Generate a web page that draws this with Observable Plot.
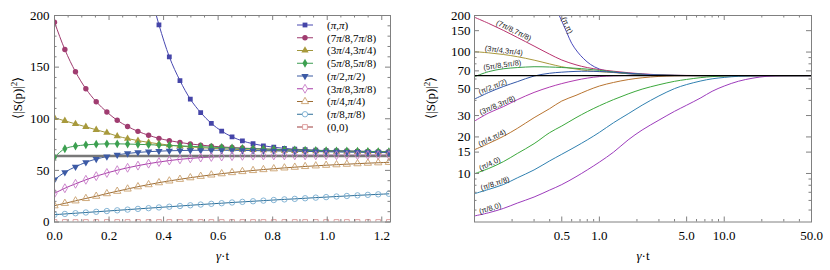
<!DOCTYPE html>
<html><head><meta charset="utf-8">
<script src="https://cdn.jsdelivr.net/npm/d3@7"></script>
<script src="https://cdn.jsdelivr.net/npm/@observablehq/plot@0.6"></script>
<style>
html,body{margin:0;padding:0;background:#fff;}
#wrap{display:flex;width:830px;height:270px;overflow:hidden;}
#wrap svg{display:block;flex:none;}
</style></head><body><div id="wrap"></div>
<script>
// ---------- LEFT PANEL DATA (linear axes) ----------
const tL = [0,0.038,0.077,0.115,0.153,0.192,0.23,0.268,0.306,0.345,0.383,0.421,0.46,0.498,0.536,0.575,0.613,0.651,0.689,0.728,0.766,0.804,0.843,0.881,0.919,0.958,0.996,1.034,1.072,1.111,1.149,1.187,1.226];
const vPiPi = [null,null,null,null,null,null,null,null,268,228,191,160,137,119,106,95.5,88,82.5,78.5,75.8,73.8,72.4,71.3,70.5,70,69.5,69.2,68.9,68.6,68.4,68.2,68,67.9];
const v78 = [193.5,167,145.5,129,116.5,106.5,98.5,92.5,87.8,84,81,78.8,77,75.6,74.5,73.5,72.7,72.1,71.6,71.1,70.7,70.4,70.1,69.8,69.5,69.3,69.1,68.9,68.7,68.5,68.4,68.2,68.1];
const v34 = [100.8,98,95,92.2,89.3,86.5,83.2,80.8,78.8,77.1,75.7,74.5,73.5,72.7,72,71.4,70.9,70.5,70.1,69.8,69.5,69.3,69.1,68.9,68.7,68.5,68.4,68.2,68.1,68,67.9,67.8,67.7];
const v58 = [62.7,71,73.5,74.7,75.4,75.7,75.7,75.5,75.2,74.9,74.5,74.1,73.7,73.3,72.9,72.5,72.1,71.7,71.3,71,70.7,70.4,70.1,69.8,69.6,69.3,69.1,68.9,68.7,68.5,68.3,68.2,68];
const v12 = [41,48.2,53.5,57.8,61,63.3,65.1,66.4,67.4,68.1,68.6,69,69.2,69.4,69.5,69.5,69.5,69.4,69.3,69.2,69,68.9,68.7,68.5,68.4,68.2,68,67.9,67.7,67.6,67.4,67.3,67.2];
const v38 = [27.8,32.7,37,40.9,44.4,47.5,50.2,52.5,54.6,56.5,58.1,59.5,60.7,61.6,62.4,63,63.4,63.8,64.1,64.3,64.4,64.5,64.5,64.6,64.6,64.6,64.7,64.7,64.7,64.7,64.8,64.8,64.8];
const v14 = [15.8,18.1,20.5,22.8,25,27.5,29.8,32,34.2,36.2,38.1,39.8,41.4,42.9,44.3,45.6,46.8,47.9,48.9,49.9,50.8,51.6,52.4,53.1,53.8,54.4,55,55.5,56,56.5,57,57.4,57.8];
const v18 = [7.1,7.8,8.5,9.2,9.9,10.6,11.3,12,12.7,13.4,14.1,14.8,15.5,16.2,16.9,17.6,18.2,18.9,19.5,20.1,20.7,21.3,21.9,22.4,23,23.6,24.1,24.7,25.2,25.8,26.3,26.8,27.3];
const v00 = [0,0,0,0,0,0,0,0,0,0,0,0,0,0,0,0,0,0,0,0,0,0,0,0,0,0,0,0,0,0,0,0,0];
const namesL = ["(π,π)","(7π/8,7π/8)","(3π/4,3π/4)","(5π/8,5π/8)","(π/2,π/2)","(3π/8,3π/8)","(π/4,π/4)","(π/8,π/8)","(0,0)"];
const valuesL = [vPiPi,v78,v34,v58,v12,v38,v14,v18,v00];
const refLevel = 64;

const xMajL = [0,0.2,0.4,0.6,0.8,1.0,1.2];
const xMinL = [0.05,0.1,0.15,0.25,0.3,0.35,0.45,0.5,0.55,0.65,0.7,0.75,0.85,0.9,0.95,1.05,1.1,1.15];
const yMajL = [0,50,100,150,200];
const yMinL = [10,20,30,40,60,70,80,90,110,120,130,140,160,170,180,190];

// ---------- RIGHT PANEL DATA (log-log) ----------
const tRpp = [0.4,0.45,0.5,0.55,0.6,0.67,0.75,0.85,1,1.3,1.7,2.2,3,4,5,8,50];
const rPP = [300,228,180,144,118,100,88,79,72.5,68.3,66.3,65.2,64.5,64.2,64.1,64,64];
const tR = [0.1,0.13,0.17,0.22,0.3,0.4,0.5,0.65,0.8,1,1.3,1.7,2.2,3,4,5,6.5,8,10,13,17,22,30,40,50];
const r78 = [193.5,172,151,132,112,96,86,78.5,74.5,71.8,69.5,67.6,66.2,65,64.4,64.2,64.1,64,64,64,64,64,64,64,64];
const r34 = [100.8,98.5,95.5,91.6,85.8,79.8,75.7,72.5,70.3,68.9,67.8,66.5,65.4,64.6,64.2,64.1,64,64,64,64,64,64,64,64,64];
const r58 = [62.7,69,72.8,74.5,75.7,75.3,74.6,73.5,72.3,70.6,68.6,66.8,65.5,64.6,64.2,64.1,64,64,64,64,64,64,64,64,64];
const r12 = [41,46.5,52,57,63.5,66.9,68.3,69.3,69.5,69.2,68.2,67,65.8,64.8,64.3,64.1,64,64,64,64,64,64,64,64,64];
const r38 = [27,31.5,35.5,40.5,46.5,51.5,55,58.6,61,62.8,63.8,64.2,64.3,64.2,64.1,64,64,64,64,64,64,64,64,64,64];
const r14 = [15.7,17.7,20.2,23.5,28.8,34.2,39.5,44,48.2,52.5,56.2,59.3,61.4,63,63.7,63.9,64,64,64,64,64,64,64,64,64];
const r40 = [9.95,11,12.5,14.6,17.6,21.7,24.6,28.8,32.3,36.1,40.6,45.2,49.5,53.8,57.4,59.5,61.6,62.8,63.6,64,64,64,64,64,64];
const r18 = [6.82,7.4,8.1,9.2,10.7,12.7,14.4,16.7,18.9,21.8,26.2,31,36.5,43.5,50,54,57.8,60.2,61.8,63.2,63.8,64,64,64,64];
const r80 = [4.47,4.75,5.15,5.7,6.4,7.3,8.1,9.4,10.7,12.4,15,18.9,22.8,27.5,32.5,36.5,42,47.5,52.5,57.5,61,63.2,63.9,64,64];
const namesR = ["(π,π)","(7π/8,7π/8)","(3π/4,3π/4)","(5π/8,5π/8)","(π/2,π/2)","(3π/8,3π/8)","(π/4,π/4)","(π/4,0)","(π/8,π/8)","(π/8,0)"];
const timesR = [tRpp,tR,tR,tR,tR,tR,tR,tR,tR,tR];
const valuesR = [rPP,r78,r34,r58,r12,r38,r14,r40,r18,r80];
// curve labels (anchor on curve, in data units)
const labelT = [0.53,0.202,0.171,0.168,0.142,0.155,0.141,0.135,0.148,0.135];
const labelV = [158,140,95.4,72.5,48.2,34,18.3,11.2,7.7,4.8];
const labelRot = [65,26,7,-8,-22,-23,-26,-25,-18.5,-17];

const xMajR = [0.5,1,5,10,50];
const xMinR = [0.2,0.3,0.4,0.6,0.7,0.8,0.9,2,3,4,6,7,8,9,20,30,40];
const yMajR = [10,15,20,30,50,70,100,150,200];
const yMinR = [5,6,7,8,9,40,60,80,90];

// ---------- STYLES ----------
const lineColL = ["#4848b0","#9e3a6e","#a0963c","#3c9c52","#3a5aa2","#a83ca8","#9c6c34","#2c6e98","#9c3c3c"];
const markColL = ["#4545a8","#a03c70","#a89a3c","#3ca050","#3c5aa5","#c77cc7","#c9a06e","#78add0","#dc9696"];
const filledL = [true,true,true,true,true,false,false,false,false];
const triDown = {draw(ctx, size){const y = -Math.sqrt(size/(Math.sqrt(3)*3)); ctx.moveTo(0,-y*2); ctx.lineTo(-Math.sqrt(3)*y, y); ctx.lineTo(Math.sqrt(3)*y, y); ctx.closePath();}};
const symL = [d3.symbolSquare,d3.symbolCircle,d3.symbolTriangle,d3.symbolDiamond,triDown,d3.symbolDiamond,d3.symbolTriangle,d3.symbolCircle,d3.symbolSquare];
const colR = ["#4b4bbd","#b8336e","#a8983c","#38a048","#3458a8","#b03cb0","#b87430","#3ca83c","#3080b0","#9c3cbc"];
const frameCol = "#808080";
const SERIF = "Liberation Serif";
const SANS = "Liberation Sans";
const txt = {fontSize: 13, fill: "#000"};

function tickMarks(xMaj, xMin, yMaj, yMin, xd, yd) {
  const [x0,x1] = xd, [y0,y1] = yd;
  const st = {stroke: frameCol, strokeWidth: 1};
  const out = [];
  for (const [vals, len] of [[xMaj,5],[xMin,2.5]]) {
    out.push(Plot.ruleX(vals, {x: d=>d, y1: ()=>y0, y2: ()=>y0, insetBottom: len, ...st}));
    out.push(Plot.ruleX(vals, {x: d=>d, y1: ()=>y1, y2: ()=>y1, insetBottom: -len, ...st}));
  }
  for (const [vals, len] of [[yMaj,5],[yMin,2.5]]) {
    out.push(Plot.ruleY(vals, {y: d=>d, x1: ()=>x0, x2: ()=>x0, insetRight: -len, ...st}));
    out.push(Plot.ruleY(vals, {y: d=>d, x1: ()=>x1, x2: ()=>x1, insetRight: len, ...st}));
  }
  return out;
}
function tickLabels(xMaj, yMaj, xd, yd, xfmt, yfmt, ypad) {
  return [
    Plot.text(xMaj, {x: d=>d, y: ()=>yd[0], text: d=>xfmt(d), dy: 14, ...txt}),
    Plot.text(yMaj, {x: ()=>xd[0], y: d=>d, text: d=>yfmt(d), dx: -ypad, textAnchor: "end", ...txt})
  ];
}

function fixLabels(svg, sansTexts) {
  const sel = d3.select(svg);
  sel.selectAll("text").each(function(){
    const el = d3.select(this);
    const s = this.textContent;
    if (s === "γ·t") {
      el.text("");
      el.append("tspan").attr("font-style","italic").text("γ");
      el.append("tspan").text("·t");
    } else if (s === "⟨|S(p)|2⟩") {
      el.text("");
      el.append("tspan").text("⟨|S(p)|");
      el.append("tspan").attr("dy","-5").style("font-size","9px").text("2");
      el.append("tspan").attr("dy","5").text("⟩");
    }
  });
  sel.selectAll("text").each(function(){
    const f = sansTexts.includes(this.textContent) ? SANS : SERIF;
    d3.select(this).attr("font-family", f).style("font-family", f);
  });
}

// ---------- LEFT PLOT ----------
const xdL = [0, 1.232], ydL = [0, 200];
const marksL = [];
namesL.forEach((n,k) => {
  const rows = tL.map((t,i)=>({t, v: valuesL[k][i]})).filter(d=>d.v!=null);
  marksL.push(Plot.line(rows, {x:"t", y:"v", stroke: lineColL[k], strokeWidth: 1, curve: "monotone-x", clip: true}));
});
marksL.push(Plot.ruleY([refLevel], {stroke: "#787878", strokeWidth: 2.5}));
namesL.forEach((n,k) => {
  const rows = tL.map((t,i)=>({t, v: valuesL[k][i]})).filter(d=>d.v!=null);
  marksL.push(Plot.dot(rows, filledL[k]
    ? {x:"t", y:"v", symbol: symL[k], r: 2.7, fill: markColL[k], stroke: "none", clip: true}
    : {x:"t", y:"v", symbol: symL[k], r: 2.7, fill: "none", stroke: markColL[k], strokeWidth: 0.9, clip: true}));
});
marksL.push(...tickMarks(xMajL, xMinL, yMajL, yMinL, xdL, ydL));
marksL.push(Plot.frame({stroke: frameCol}));
marksL.push(...tickLabels(xMajL, yMajL, xdL, ydL, d3.format(".1f"), d3.format("d"), 5));
marksL.push(Plot.text(["γ·t"], {text: d=>d, frameAnchor: "bottom", dy: 38, ...txt}));
marksL.push(Plot.text(["⟨|S(p)|2⟩"], {text: d=>d, frameAnchor: "left", dx: -37, rotate: -90, ...txt}));

const left = Plot.plot({
  width: 415, height: 270,
  marginLeft: 54, marginRight: 25, marginTop: 15, marginBottom: 48.5,
  x: {domain: xdL, axis: null}, y: {domain: ydL, axis: null},
  style: {background: "#fff", color: "#000"},
  marks: marksL
});

// legend (left panel)
{
  const g = d3.select(left).append("g").attr("fill", "#000");
  const legTop = 25, legStep = 12.75;
  namesL.forEach((n,k) => {
    const y = legTop + k*legStep;
    g.append("line").attr("x1",297).attr("x2",313).attr("y1",y).attr("y2",y).attr("stroke",lineColL[k]).attr("stroke-width",1);
    const p = g.append("path").attr("transform",`translate(305,${y})`).attr("d", d3.symbol(symL[k], 2.7*2.7*Math.PI)());
    if (filledL[k]) p.attr("fill", markColL[k]); else p.attr("fill","#fff").attr("stroke", markColL[k]).attr("stroke-width",0.9);
    const tx = g.append("text").attr("x",327).attr("y",y).attr("dy","0.35em").attr("text-anchor","start").style("font-size","11px");
    n.split(/(π)/).forEach(part => { if (!part) return; const ts = tx.append("tspan").text(part); if (part==="π") ts.attr("font-style","italic"); });
  });
}
fixLabels(left, []);

// ---------- RIGHT PLOT ----------
const xdR = [0.1, 50], ydR = [3.985, 200];
const marksR = [];
namesR.forEach((n,k) => {
  const rows = timesR[k].map((t,i)=>({t, v: valuesR[k][i]}));
  marksR.push(Plot.line(rows, {x:"t", y:"v", stroke: colR[k], strokeWidth: 1, curve: "catmull-rom", clip: true}));
});
marksR.push(Plot.ruleY([refLevel], {stroke: "#000", strokeWidth: 1.2}));
marksR.push(Plot.text(namesR.map((n,i)=>i), {x: i=>labelT[i], y: i=>labelV[i], text: i=>namesR[i], rotate: i=>labelRot[i], lineAnchor: "bottom", dy: -1.5, fontSize: 7.5, fill: "#222"}));
marksR.push(...tickMarks(xMajR, xMinR, yMajR, yMinR, xdR, ydR));
marksR.push(Plot.frame({stroke: frameCol}));
marksR.push(...tickLabels(xMajR, yMajR, xdR, ydR, d3.format(".1f"), d3.format("d"), 4));
marksR.push(Plot.text(["γ·t"], {text: d=>d, frameAnchor: "bottom", dy: 38, ...txt}));
marksR.push(Plot.text(["⟨|S(p)|2⟩"], {text: d=>d, frameAnchor: "left", dx: -44, rotate: -90, ...txt}));

const right = Plot.plot({
  width: 415, height: 270,
  marginLeft: 59, marginRight: 19, marginTop: 15, marginBottom: 48.5,
  x: {type: "log", domain: xdR, axis: null}, y: {type: "log", domain: ydR, axis: null},
  style: {background: "#fff", color: "#000"},
  marks: marksR
});
fixLabels(right, namesR);

document.getElementById("wrap").append(left, right);
</script>
</body></html>
